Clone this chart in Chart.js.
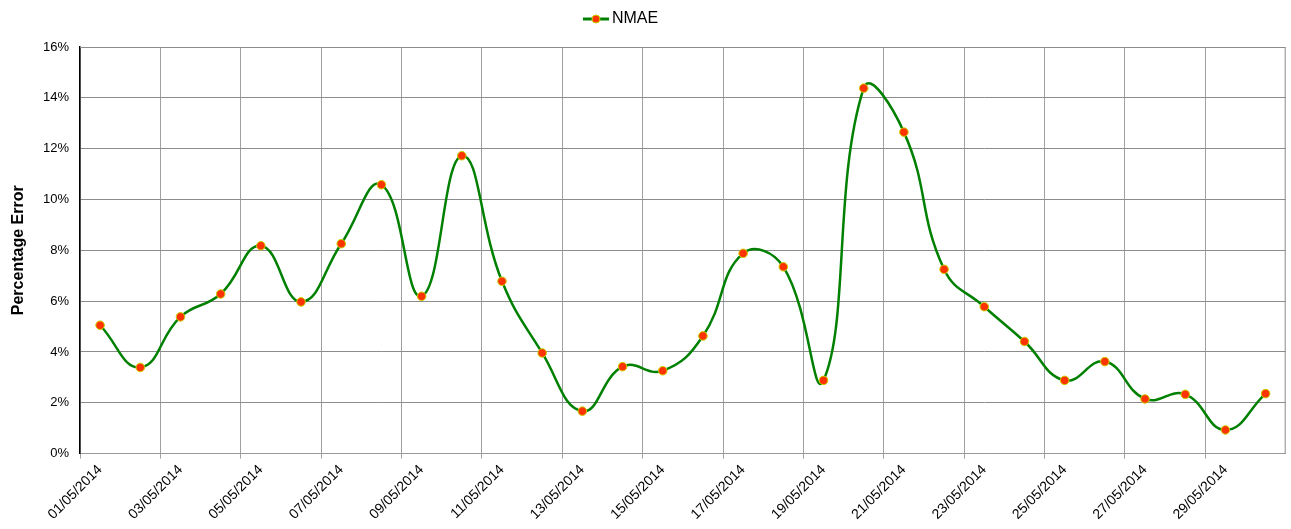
<!DOCTYPE html>
<html>
<head>
<meta charset="utf-8">
<script src="https://cdn.jsdelivr.net/npm/chart.js@4/dist/chart.umd.min.js"></script>
<style>
  html, body { margin: 0; padding: 0; background: #fff; }
  #wrap { width: 1291px; height: 529px; position: relative; }
</style>
</head>
<body>
<div id="wrap"><canvas id="grafico"></canvas></div>
<script>
const fechas = [
  "01/05/2014", "02/05/2014", "03/05/2014", "04/05/2014", "05/05/2014", "06/05/2014",
  "07/05/2014", "08/05/2014", "09/05/2014", "10/05/2014", "11/05/2014", "12/05/2014",
  "13/05/2014", "14/05/2014", "15/05/2014", "16/05/2014", "17/05/2014", "18/05/2014",
  "19/05/2014", "20/05/2014", "21/05/2014", "22/05/2014", "23/05/2014", "24/05/2014",
  "25/05/2014", "26/05/2014", "27/05/2014", "28/05/2014", "29/05/2014", "30/05/2014"
];
const nmae = [
  5.05, 3.39, 5.38, 6.28, 8.18, 5.97, 8.26, 10.58, 6.19, 11.72,
  6.78, 3.96, 1.67, 3.42, 3.26, 4.63, 7.88, 7.35, 2.88, 14.38,
  12.65, 7.25, 5.78, 4.41, 2.88, 3.62, 2.15, 2.33, 0.93, 2.36
];
const ticksY = [0, 2, 4, 6, 8, 10, 12, 14, 16];

// icono de la leyenda: linea con punto
const icono = document.createElement("canvas");
icono.width = 26; icono.height = 12;
(() => {
  const c = icono.getContext("2d");
  c.strokeStyle = "#008000"; c.lineWidth = 3;
  c.beginPath(); c.moveTo(0, 6); c.lineTo(26, 6); c.stroke();
  c.fillStyle = "#FF3300"; c.strokeStyle = "#C8D400"; c.lineWidth = 1;
  c.beginPath(); c.arc(13, 6, 4, 0, Math.PI * 2); c.fill(); c.stroke();
})();

new Chart(document.getElementById("grafico"), {
  type: "line",
  data: {
    labels: fechas,
    datasets: [{
      label: "NMAE",
      data: nmae,
      borderColor: "#008000",
      borderWidth: 2.5,
      tension: 0.45,
      pointRadius: 4.3,
      pointBorderWidth: 1,
      pointBackgroundColor: "#FF3300",
      pointBorderColor: "#C8D400"
    }]
  },
  options: {
    responsive: true,
    maintainAspectRatio: false,
    animation: false,
    layout: { padding: { left: 0, right: -7, top: 0, bottom: 3 } },
    plugins: {
      legend: {
        position: "top",
        labels: {
          usePointStyle: true,
          font: { family: "Liberation Sans", size: 16 },
          color: "#000",
          padding: 11,
          generateLabels: chart => [{
            text: "NMAE",
            pointStyle: icono,
            datasetIndex: 0
          }]
        }
      },
      tooltip: { enabled: false }
    },
    scales: {
      x: {
        type: "category",
        offset: true,
        border: { color: "#999", width: 1 },
        grid: {
          offset: true,
          lineWidth: 1,
          tickLength: 5,
          color: ctx => ctx.index % 2 === 0 ? "#a0a0a0" : "rgba(0,0,0,0)"
        },
        ticks: {
          autoSkip: false,
          maxRotation: 45,
          minRotation: 45,
          color: "#000",
          font: { family: "Liberation Sans", size: 14 },
          callback: (v, i) => i % 2 === 0 ? fechas[i] : ""
        }
      },
      y: {
        min: 0,
        max: 16,
        border: { color: "#000", width: 1.5 },
        grid: { color: "#8c8c8c", lineWidth: 1, drawTicks: false },
        afterBuildTicks: axis => { axis.ticks = ticksY.map(v => ({ value: v })); },
        afterFit: axis => { axis.width = 80; },
        ticks: {
          color: "#000",
          padding: 11,
          font: { family: "Liberation Sans", size: 13 },
          callback: v => v + "%"
        },
        title: {
          display: true,
          text: "Percentage Error",
          color: "#000",
          padding: { top: 9, bottom: 0 },
          font: { family: "Liberation Sans", size: 16, weight: "bold" }
        }
      }
    }
  },
  plugins: [{
    id: "ajusteLeyenda",
    beforeInit(chart) {
      const fit = chart.legend.fit;
      chart.legend.fit = function () { fit.call(this); this.height += 10; };
    },
    afterLayout(chart) {
      chart.legend.right -= 52;
    }
  }, {
    id: "bordeGris",
    afterDraw(chart) {
      const { ctx, chartArea: a } = chart;
      ctx.save();
      ctx.strokeStyle = "#8c8c8c";
      ctx.lineWidth = 1;
      ctx.beginPath();
      ctx.moveTo(a.left, a.top + 0.5);
      ctx.lineTo(a.right - 0.5, a.top + 0.5);
      ctx.lineTo(a.right - 0.5, a.bottom);
      ctx.stroke();
      ctx.restore();
    }
  }]
});
</script>
</body>
</html>
